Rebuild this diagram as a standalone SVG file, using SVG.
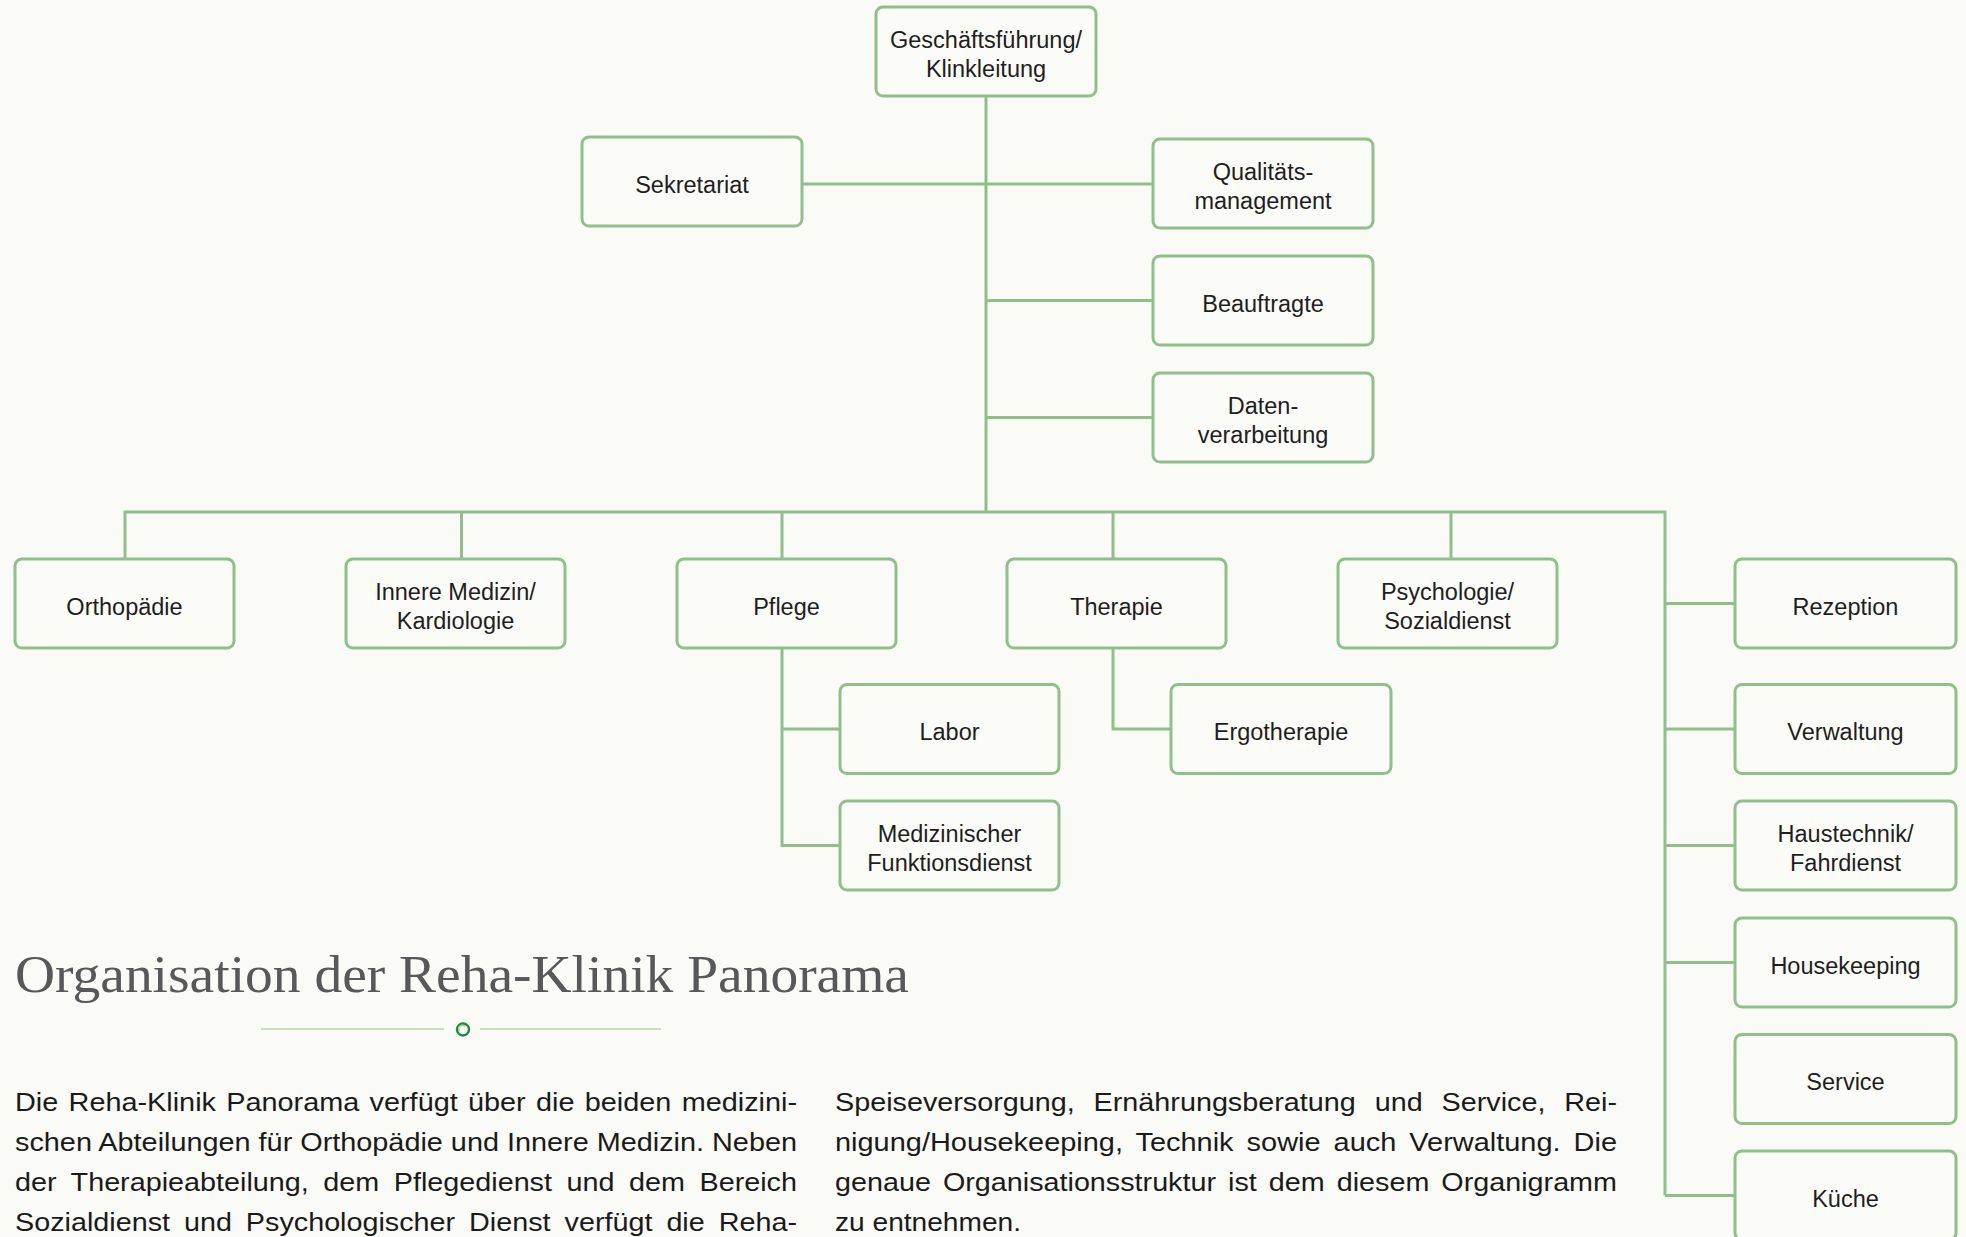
<svg xmlns="http://www.w3.org/2000/svg" width="1966" height="1237" viewBox="0 0 1966 1237">
<style>
.box{fill:#fbfbf7;stroke:#8fbf8b;stroke-width:3}
.lbl{font-family:"Liberation Sans",Arial,sans-serif;font-size:23.5px;fill:#1e1e1e;text-anchor:middle}
.conn{fill:none;stroke:#8fbf8b;stroke-width:3}
.body{font-family:"Liberation Sans",Arial,sans-serif;font-size:25px;fill:#1a1a1a}
.title{font-family:"Liberation Serif","Times New Roman",serif;font-size:53px;fill:#58585a}
</style>
<rect x="0" y="0" width="1966" height="1237" fill="#fafaf6"/>

<g id="connectors">
  <path class="conn" d="M986 96 V512"/>
  <path class="conn" d="M802 184 H1153"/>
  <path class="conn" d="M986 300.5 H1153"/>
  <path class="conn" d="M986 417.5 H1153"/>
  <path class="conn" d="M125 559 V512 H1665 V1195.5"/>
  <path class="conn" d="M461.5 512 V559"/>
  <path class="conn" d="M782 512 V559"/>
  <path class="conn" d="M1113 512 V559"/>
  <path class="conn" d="M1451 512 V559"/>
  <path class="conn" d="M782 648 V845.5 H840"/>
  <path class="conn" d="M782 729 H840"/>
  <path class="conn" d="M1113 648 V729 H1171"/>
  <path class="conn" d="M1665 603.5 H1735"/>
  <path class="conn" d="M1665 729 H1735"/>
  <path class="conn" d="M1665 845.5 H1735"/>
  <path class="conn" d="M1665 962.5 H1735"/>
  <path class="conn" d="M1665 1195.5 H1735"/>
</g>

<g id="n-gf"><rect class="box" x="876" y="7" width="220" height="89" rx="7"/><text class="lbl" x="986" y="48">Geschäftsführung/</text><text class="lbl" x="986" y="77">Klinkleitung</text></g>
<g id="n-sek"><rect class="box" x="582" y="137" width="220" height="89" rx="7"/><text class="lbl" x="692" y="193">Sekretariat</text></g>
<g id="n-qm"><rect class="box" x="1153" y="139" width="220" height="89" rx="7"/><text class="lbl" x="1263" y="180">Qualitäts-</text><text class="lbl" x="1263" y="209">management</text></g>
<g id="n-beauf"><rect class="box" x="1153" y="256" width="220" height="89" rx="7"/><text class="lbl" x="1263" y="312">Beauftragte</text></g>
<g id="n-daten"><rect class="box" x="1153" y="373" width="220" height="89" rx="7"/><text class="lbl" x="1263" y="414">Daten-</text><text class="lbl" x="1263" y="443">verarbeitung</text></g>

<g id="n-ortho"><rect class="box" x="15" y="559" width="219" height="89" rx="7"/><text class="lbl" x="124.5" y="615">Orthopädie</text></g>
<g id="n-innere"><rect class="box" x="346" y="559" width="219" height="89" rx="7"/><text class="lbl" x="455.5" y="600">Innere Medizin/</text><text class="lbl" x="455.5" y="629">Kardiologie</text></g>
<g id="n-pflege"><rect class="box" x="677" y="559" width="219" height="89" rx="7"/><text class="lbl" x="786.5" y="615">Pflege</text></g>
<g id="n-therapie"><rect class="box" x="1007" y="559" width="219" height="89" rx="7"/><text class="lbl" x="1116.5" y="615">Therapie</text></g>
<g id="n-psych"><rect class="box" x="1338" y="559" width="219" height="89" rx="7"/><text class="lbl" x="1447.5" y="600">Psychologie/</text><text class="lbl" x="1447.5" y="629">Sozialdienst</text></g>

<g id="n-labor"><rect class="box" x="840" y="684.5" width="219" height="89" rx="7"/><text class="lbl" x="949.5" y="740">Labor</text></g>
<g id="n-mfd"><rect class="box" x="840" y="801" width="219" height="89" rx="7"/><text class="lbl" x="949.5" y="842">Medizinischer</text><text class="lbl" x="949.5" y="871">Funktionsdienst</text></g>
<g id="n-ergo"><rect class="box" x="1171" y="684.5" width="220" height="89" rx="7"/><text class="lbl" x="1281" y="740">Ergotherapie</text></g>

<g id="n-rez"><rect class="box" x="1735" y="559" width="221" height="89" rx="7"/><text class="lbl" x="1845.5" y="615">Rezeption</text></g>
<g id="n-verw"><rect class="box" x="1735" y="684.5" width="221" height="89" rx="7"/><text class="lbl" x="1845.5" y="740">Verwaltung</text></g>
<g id="n-haus"><rect class="box" x="1735" y="801" width="221" height="89" rx="7"/><text class="lbl" x="1845.5" y="842">Haustechnik/</text><text class="lbl" x="1845.5" y="871">Fahrdienst</text></g>
<g id="n-hk"><rect class="box" x="1735" y="918" width="221" height="89" rx="7"/><text class="lbl" x="1845.5" y="974">Housekeeping</text></g>
<g id="n-service"><rect class="box" x="1735" y="1034.5" width="221" height="89" rx="7"/><text class="lbl" x="1845.5" y="1090">Service</text></g>
<g id="n-kueche"><rect class="box" x="1735" y="1151" width="221" height="89" rx="7"/><text class="lbl" x="1845.5" y="1207">Küche</text></g>

<text class="title" x="15" y="992" textLength="894" lengthAdjust="spacingAndGlyphs">Organisation der Reha-Klinik Panorama</text>
<g id="ornament">
  <line x1="261" y1="1029" x2="444" y2="1029" stroke="#b9d3b4" stroke-width="1.5"/>
  <line x1="480" y1="1029" x2="661" y2="1029" stroke="#b9d3b4" stroke-width="1.5"/>
  <circle cx="463" cy="1029.5" r="6" fill="none" stroke="#1f8a3c" stroke-width="2.4"/>
  <path d="M459.5 1031 A3.5 3.5 0 0 1 465 1026.5" fill="none" stroke="#9ccb9e" stroke-width="1.5"/>
</g>

<g id="body-text">
  <text class="body" x="15" y="1111" word-spacing="2" textLength="782" lengthAdjust="spacingAndGlyphs">Die Reha-Klinik Panorama verfügt über die beiden medizini-</text>
  <text class="body" x="15" y="1151" word-spacing="0" textLength="782" lengthAdjust="spacingAndGlyphs">schen Abteilungen für Orthopädie und Innere Medizin. Neben</text>
  <text class="body" x="15" y="1191" word-spacing="5.7" textLength="782" lengthAdjust="spacingAndGlyphs">der Therapieabteilung, dem Pflegedienst und dem Bereich</text>
  <text class="body" x="15" y="1231" word-spacing="5.2" textLength="782" lengthAdjust="spacingAndGlyphs">Sozialdienst und Psychologischer Dienst verfügt die Reha-</text>
  <text class="body" x="835" y="1111" word-spacing="9.5" textLength="782" lengthAdjust="spacingAndGlyphs">Speiseversorgung, Ernährungsberatung und Service, Rei-</text>
  <text class="body" x="835" y="1151" word-spacing="4.3" textLength="782" lengthAdjust="spacingAndGlyphs">nigung/Housekeeping, Technik sowie auch Verwaltung. Die</text>
  <text class="body" x="835" y="1191" word-spacing="3.5" textLength="782" lengthAdjust="spacingAndGlyphs">genaue Organisationsstruktur ist dem diesem Organigramm</text>
  <text class="body" x="835" y="1231" textLength="186" lengthAdjust="spacingAndGlyphs">zu entnehmen.</text>
</g>
</svg>
